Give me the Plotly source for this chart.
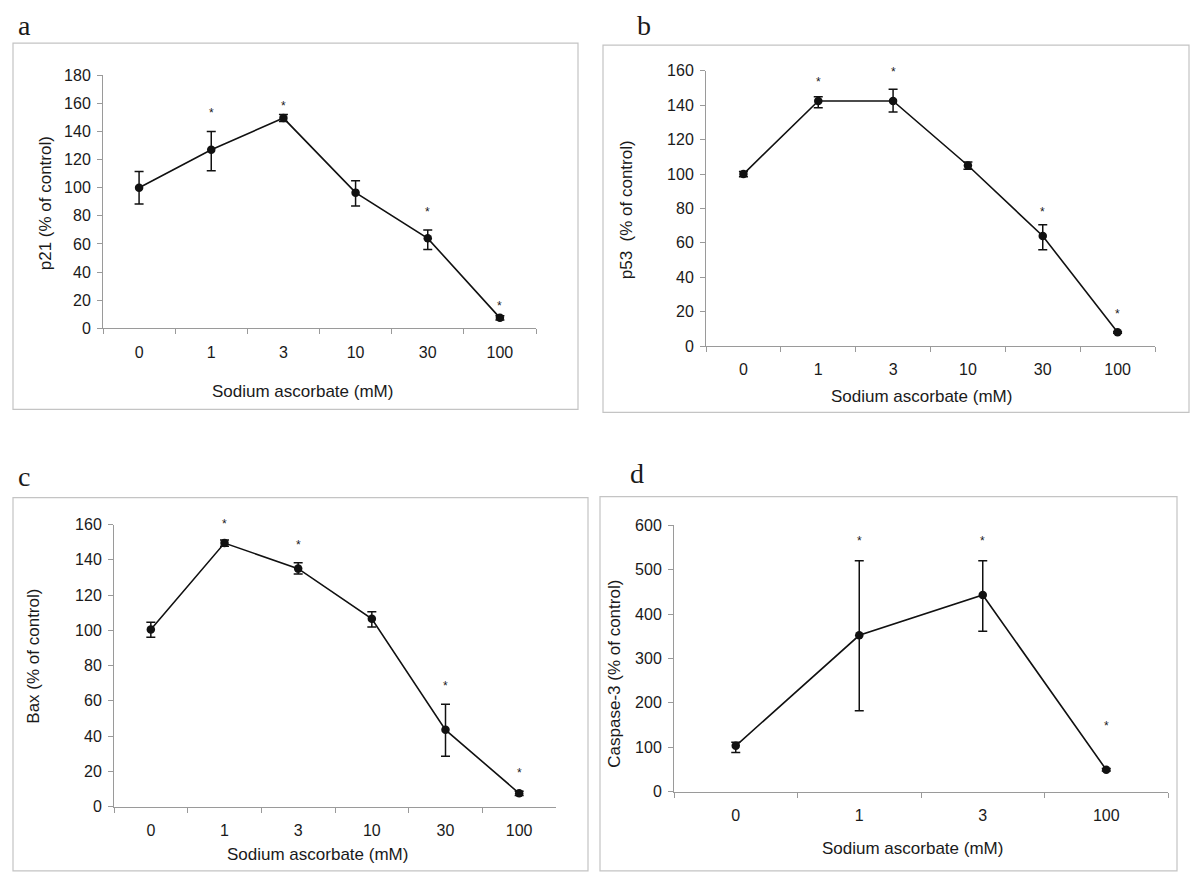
import plotly.graph_objects as go

# ---------------- data ----------------
cats6 = ["0", "1", "3", "10", "30", "100"]
cats4 = ["0", "1", "3", "100"]

p21_mean = [100, 127, 149.5, 96.5, 64, 7.5]
p21_err_hi = [11.5, 13, 2.5, 8.5, 6, 1.5]
p21_err_lo = [11.5, 15, 2.5, 9.5, 8, 1.5]
p21_star_cats = ["1", "3", "30", "100"]
p21_star_y = [155, 160, 85, 18]

p53_mean = [100, 142.5, 142.5, 105, 64, 8]
p53_err_hi = [1.5, 2.5, 6.8, 2, 6.5, 0.5]
p53_err_lo = [1.5, 4, 6.4, 2.2, 8, 0.5]
p53_star_cats = ["1", "3", "30", "100"]
p53_star_y = [155, 161, 79.5, 20.5]

bax_mean = [100.5, 149.5, 135, 106.5, 43.5, 7.5]
bax_err_hi = [4, 1.8, 3.3, 4, 14.5, 1.2]
bax_err_lo = [4.5, 1.8, 3, 4.6, 15, 1.2]
bax_star_cats = ["1", "3", "30", "100"]
bax_star_y = [162, 150, 70, 21]

casp_mean = [103, 352, 443, 49]
casp_err_hi = [8, 168, 77, 3]
casp_err_lo = [15, 170, 82, 3]
casp_star_cats = ["1", "3", "100"]
casp_star_y = [572, 572, 154]

y_titles = ["p21 (% of control)", "p53  (% of control)", "Bax (% of control)", "Caspase-3 (% of control)"]
x_title = "Sodium ascorbate (mM)"
panel_letters = ["a", "b", "c", "d"]

# ---------------- layout geometry (target pixels) ----------------
FW, FH = 1200, 889
VY0, VS = 8.9, 0.98   # vertical correction measured from earlier renders


def px(x):
    return x / FW


def py(y):
    yp = (y - VY0) / VS
    return 1 - yp / FH


FONT = "Liberation Sans, Arial, Helvetica, sans-serif"
NARROW = "Liberation Sans Narrow, Arial Narrow, Liberation Sans, Arial, sans-serif"
TXT = "#1a1a1a"
GRID = "#9a9a9a"

panels = [
    dict(cats=cats6, mean=p21_mean, hi=p21_err_hi, lo=p21_err_lo, sc=p21_star_cats, sy=p21_star_y,
         xd=(103, 536), yd=(76, 329), yr=(0, 180), dt=20, tf=FONT,
         box=(13, 44, 578, 410), xt=(302, 392), yt=(45, 204), let=(24, 26.5)),
    dict(cats=cats6, mean=p53_mean, hi=p53_err_hi, lo=p53_err_lo, sc=p53_star_cats, sy=p53_star_y,
         xd=(706, 1155), yd=(71.7, 346.7), yr=(0, 160), dt=20, tf=FONT,
         box=(603, 46, 1189, 413), xt=(921, 397), yt=(626, 210), let=(644, 26.5)),
    dict(cats=cats6, mean=bax_mean, hi=bax_err_hi, lo=bax_err_lo, sc=bax_star_cats, sy=bax_star_y,
         xd=(114, 556), yd=(525, 806.7), yr=(0, 160), dt=20, tf=FONT,
         box=(13, 498, 588, 871), xt=(317, 855), yt=(34, 657), let=(24, 477)),
    dict(cats=cats4, mean=casp_mean, hi=casp_err_hi, lo=casp_err_lo, sc=casp_star_cats, sy=casp_star_y,
         xd=(674, 1168), yd=(525.7, 791.7), yr=(0, 600), dt=100, tf=NARROW,
         box=(600, 497, 1177, 871), xt=(912, 849), yt=(615, 674), let=(637, 474)),
]

fig = go.Figure()
shapes = []
annotations = []

for i, p in enumerate(panels):
    n = i + 1
    xa = "x" if n == 1 else f"x{n}"
    ya = "y" if n == 1 else f"y{n}"
    fig.add_trace(go.Scatter(
        x=p["cats"], y=p["mean"], xaxis=xa, yaxis=ya,
        mode="lines+markers",
        line=dict(color="#111111", width=1.6),
        marker=dict(color="#111111", size=8.5),
        error_y=dict(type="data", symmetric=False, array=p["hi"], arrayminus=p["lo"],
                     color="#111111", thickness=1.5, width=4.5),
        showlegend=False, hoverinfo="x+y",
    ))
    ymax = p["yr"][1]
    for c, sy in zip(p["sc"], p["sy"]):
        # significance asterisk: x on the category axis, y as a fraction of the value range
        annotations.append(dict(x=p["cats"].index(c), y=sy / ymax, xref=xa, yref=f"{ya} domain",
                                text="*", showarrow=False, xanchor="center", yanchor="middle",
                                font=dict(family=FONT, size=12, color=TXT), yshift=-3))
    xkey = "xaxis" if n == 1 else f"xaxis{n}"
    ykey = "yaxis" if n == 1 else f"yaxis{n}"
    fig.update_layout(**{
        xkey: dict(domain=[px(p["xd"][0]), px(p["xd"][1])], anchor=ya, type="category",
                   categoryorder="array", categoryarray=p["cats"],
                   range=[-0.5, len(p["cats"]) - 0.5],
                   showline=True, linecolor=GRID, linewidth=1, showgrid=False, zeroline=False,
                   ticks="outside", tickson="boundaries", ticklen=5, tickcolor=GRID,
                   ticklabelstandoff=9,
                   tickfont=dict(family=p["tf"], size=16, color=TXT), fixedrange=True),
        ykey: dict(domain=[py(p["yd"][1]), py(p["yd"][0])], anchor=xa,
                   range=list(p["yr"]), dtick=p["dt"], tick0=0,
                   showline=True, linecolor=GRID, linewidth=1, showgrid=False, zeroline=False,
                   ticks="outside", ticklen=5, tickcolor=GRID, ticklabelstandoff=3,
                   tickfont=dict(family=p["tf"], size=16, color=TXT), fixedrange=True),
    })
    bx0, by0, bx1, by1 = p["box"]
    shapes.append(dict(type="rect", xref="paper", yref="paper",
                       x0=px(bx0), x1=px(bx1), y0=py(by1), y1=py(by0),
                       line=dict(color="#c4c4c4", width=1.2), fillcolor="rgba(0,0,0,0)", layer="below"))
    annotations.append(dict(x=px(p["xt"][0]), y=py(p["xt"][1]), xref="paper", yref="paper",
                            text=x_title, showarrow=False, xanchor="center", yanchor="middle",
                            font=dict(family=FONT, size=17, color=TXT)))
    annotations.append(dict(x=px(p["yt"][0]), y=py(p["yt"][1]), xref="paper", yref="paper",
                            text=y_titles[i], showarrow=False, textangle=-90,
                            xanchor="center", yanchor="middle",
                            font=dict(family=FONT, size=17, color=TXT)))
    annotations.append(dict(x=px(p["let"][0]), y=py(p["let"][1]), xref="paper", yref="paper",
                            text=panel_letters[i], showarrow=False, xanchor="center", yanchor="middle",
                            font=dict(family="Liberation Serif, Times New Roman, serif", size=28, color=TXT)))

fig.update_layout(width=FW, height=FH, margin=dict(l=0, r=0, t=0, b=0),
                  paper_bgcolor="white", plot_bgcolor="white",
                  shapes=shapes, annotations=annotations, showlegend=False)

fig.write_html("out.html", config={"displayModeBar": False},
               post_script="document.body.style.margin='0';document.body.style.overflow='hidden';")
